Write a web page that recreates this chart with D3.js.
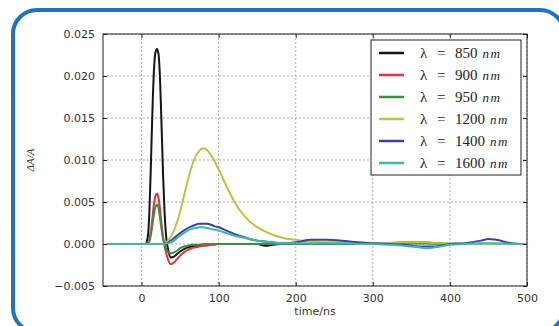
<!DOCTYPE html>
<html>
<head>
<meta charset="utf-8">
<script src="https://cdn.jsdelivr.net/npm/d3@7"></script>
<style>
  body { margin: 0; background: #fff; }
  svg { display: block; }
</style>
</head>
<body>
<div id="chart"></div>
<script>
// time axis in ns, shared by every series
const times = [-45, -20, 0, 5, 8, 10, 12, 14, 16, 18, 20, 22, 24, 26, 28, 30, 32, 35, 38, 42,
  46, 50, 55, 60, 65, 70, 75, 80, 85, 90, 95, 100, 110, 120, 130, 140, 150, 160, 170, 180,
  190, 200, 220, 240, 260, 280, 300, 320, 340, 360, 370, 380, 400, 420, 440, 450, 460, 480, 500];

const wl850 = [0, 0, 0, 0, 0.0008, 0.0035, 0.009, 0.0155, 0.0205, 0.0228, 0.0232, 0.0226, 0.0196, 0.014, 0.008,
  0.0035, 0.0008, -0.0009, -0.0016, -0.0015, -0.0012, -0.0009, -0.0006, -0.0004, -0.0003,
  -0.0002, -0.0002, -0.0001, -0.0001, -0.0001, 0, 0, 0, 0, 0, 0, 0, -0.0002, -0.0001, 0,
  0, 0, 0, 0, 0, 0, 0, 0, 0.0001, 0.0001, 0.0001, 0.0001, 0, 0, 0, 0, 0, 0, 0];

const wl900 = [0, 0, 0, 0, 0.0001, 0.0005, 0.0015, 0.003, 0.0047, 0.0057, 0.006, 0.0055, 0.0041, 0.0023, 0.0008,
  -0.0003, -0.0011, -0.002, -0.0024, -0.0022, -0.0018, -0.0014, -0.001, -0.0007, -0.0005,
  -0.0004, -0.0003, -0.0002, -0.0002, -0.0001, -0.0001, 0, 0, 0, 0, 0, 0, 0, 0, 0,
  0, 0, 0, 0, 0, 0, 0, 0.0001, 0.0002, 0.0002, 0.0002, 0.0001, 0, 0, 0, 0, 0, 0, 0];

const wl950 = [0, 0, 0, 0, 0.0001, 0.0003, 0.001, 0.0022, 0.0035, 0.0044, 0.0047, 0.0043, 0.0031, 0.0017, 0.0006,
  -0.0001, -0.0006, -0.001, -0.0011, -0.001, -0.0008, -0.0005, -0.0003, -0.0002, -0.0001,
  -0.0001, -0.0001, 0, 0, 0, 0, 0, 0, 0, 0, 0, 0, 0, 0, 0,
  0, 0, 0, 0, 0, 0, 0, 0.0001, 0.0001, 0.0001, 0.0001, 0, 0, 0, 0, 0, 0, 0, 0];

const wl1200 = [0, 0, 0, 0, 0, 0, 0, 0, 0, 0, 0, 0, 0, 0, 0,
  0.0001, 0.0002, 0.0005, 0.0009, 0.0016, 0.0026, 0.0038, 0.0057, 0.0076, 0.0092,
  0.0104, 0.0111, 0.0114, 0.0112, 0.0106, 0.0098, 0.0089, 0.0069, 0.0051, 0.0037,
  0.0027, 0.002, 0.0015, 0.0011, 0.0008, 0.0006, 0.0005, 0.0003, 0.0002, 0.0002,
  0.0001, 0.0001, 0.0001, 0.0002, 0.0002, 0.0002, 0.0001, 0.0001, 0, 0, 0, 0, 0, 0];

const wl1400 = [0, 0, 0, 0, 0, 0, 0, 0, 0, 0, 0, 0, 0, 0, 0,
  0.0001, 0.0001, 0.0002, 0.0004, 0.0007, 0.001, 0.0013, 0.0016, 0.0019, 0.0021,
  0.0023, 0.0024, 0.0024, 0.0024, 0.0023, 0.0021, 0.002, 0.0016, 0.0012, 0.0009,
  0.0006, 0.0004, 0.0003, 0.0002, 0.0001, 0.0001, 0.0002, 0.0005, 0.0005, 0.0004,
  0.0002, 0.0001, 0, -0.0001, -0.0003, -0.0003, -0.0003, 0, 0.0001, 0.0004, 0.0006, 0.0005, 0.0001, 0];

const wl1600 = [0, 0, 0, 0, 0, 0, 0, 0, 0, 0, 0, 0, 0, 0, 0,
  0, 0.0001, 0.0001, 0.0002, 0.0004, 0.0007, 0.001, 0.0013, 0.0016, 0.0018,
  0.0019, 0.002, 0.002, 0.0019, 0.0018, 0.0017, 0.0016, 0.0013, 0.001, 0.0008,
  0.0006, 0.0004, 0.0003, 0.0002, 0.0001, 0.0001, 0.0001, 0.0001, 0.0001, 0.0001,
  0, 0, -0.0001, -0.0002, -0.0004, -0.0005, -0.0004, -0.0001, 0, 0.0001, 0.0001, 0.0001, 0, 0];

const labels = ["850", "900", "950", "1200", "1400", "1600"];
const seriesValues = [wl850, wl900, wl950, wl1200, wl1400, wl1600];
const colors = ["#151515", "#e3333b", "#3b8f3e", "#bcc43e", "#3a44a0", "#3fb6ae"];

const xTicks = [0, 100, 200, 300, 400, 500];
const yTicks = [-0.005, 0, 0.005, 0.01, 0.015, 0.02, 0.025];

const width = 559;
const height = 326;
const margin = { top: 34, right: 32, bottom: 40, left: 103 };

const svg = d3.select("#chart")
  .append("svg")
  .attr("width", width)
  .attr("height", height);

// rounded blue frame around the figure
svg.append("rect")
  .attr("x", 13)
  .attr("y", 10)
  .attr("width", 551)
  .attr("height", 322)
  .attr("rx", 24)
  .attr("fill", "none")
  .attr("stroke", "#1b72c6")
  .attr("stroke-width", 4);

const x = d3.scaleLinear()
  .domain([-50, 500])
  .range([margin.left, width - margin.right]);

const y = d3.scaleLinear()
  .domain([-0.005, 0.025])
  .range([height - margin.bottom, margin.top]);

const plotW = x.range()[1] - x.range()[0];
const plotH = y.range()[0] - y.range()[1];

// grid
const grid = svg.append("g")
  .attr("stroke", "#9a9a9a")
  .attr("stroke-width", 0.8)
  .attr("stroke-dasharray", "2,2");

grid.selectAll("line.gx")
  .data(xTicks)
  .join("line")
  .attr("class", "gx")
  .attr("x1", d => x(d)).attr("x2", d => x(d))
  .attr("y1", y.range()[1]).attr("y2", y.range()[0]);

grid.selectAll("line.gy")
  .data(yTicks)
  .join("line")
  .attr("class", "gy")
  .attr("x1", x.range()[0]).attr("x2", x.range()[1])
  .attr("y1", d => y(d)).attr("y2", d => y(d));

// curves
const line = d3.line()
  .x((d, i) => x(times[i]))
  .y(d => y(d))
  .curve(d3.curveMonotoneX);

svg.append("clipPath").attr("id", "plotclip")
  .append("rect")
  .attr("x", x.range()[0]).attr("y", y.range()[1])
  .attr("width", plotW).attr("height", plotH);

svg.append("g")
  .attr("clip-path", "url(#plotclip)")
  .selectAll("path")
  .data(seriesValues)
  .join("path")
  .attr("d", d => line(d))
  .attr("fill", "none")
  .attr("stroke", (d, i) => colors[i])
  .attr("stroke-width", 2)
  .attr("stroke-linejoin", "round");

// axes, ticks inward on all four sides
const fmtY = d => d3.format(".3f")(d).replace("-", "\u2212");

svg.append("g")
  .attr("transform", `translate(0,${y.range()[0]})`)
  .call(d3.axisBottom(x).tickValues(xTicks).tickSizeInner(-4).tickSizeOuter(0).tickPadding(8))
  .call(g => g.select(".domain").remove());

svg.append("g")
  .attr("transform", `translate(0,${y.range()[1]})`)
  .call(d3.axisTop(x).tickValues(xTicks).tickSizeInner(-4).tickSizeOuter(0).tickFormat(""))
  .call(g => g.select(".domain").remove());

svg.append("g")
  .attr("transform", `translate(${x.range()[0]},0)`)
  .call(d3.axisLeft(y).tickValues(yTicks).tickFormat(fmtY).tickSizeInner(-4).tickSizeOuter(0).tickPadding(8))
  .call(g => g.select(".domain").remove());

svg.append("g")
  .attr("transform", `translate(${x.range()[1]},0)`)
  .call(d3.axisRight(y).tickValues(yTicks).tickFormat("").tickSizeInner(-4).tickSizeOuter(0))
  .call(g => g.select(".domain").remove());

svg.selectAll(".tick text")
  .style("font-family", "DejaVu Sans, sans-serif")
  .style("font-size", "11px")
  .style("fill", "#333");

svg.selectAll(".tick line").attr("stroke", "#222");

// plot frame
svg.append("rect")
  .attr("x", x.range()[0]).attr("y", y.range()[1])
  .attr("width", plotW).attr("height", plotH)
  .attr("fill", "none")
  .attr("stroke", "#222")
  .attr("stroke-width", 1);

// axis labels
svg.append("text")
  .attr("x", 315)
  .attr("y", 315)
  .attr("text-anchor", "middle")
  .style("font-family", "DejaVu Sans, sans-serif")
  .style("font-size", "11px")
  .style("fill", "#333")
  .text("time/ns");

svg.append("text")
  .attr("transform", "translate(34,160) rotate(-90)")
  .attr("text-anchor", "middle")
  .style("font-family", "Liberation Serif, serif")
  .style("font-style", "italic")
  .style("font-size", "11px")
  .style("fill", "#333")
  .text("\u0394A/A");

// legend
const legend = svg.append("g");

legend.append("rect")
  .attr("x", 371).attr("y", 40)
  .attr("width", 150).attr("height", 135)
  .attr("fill", "#fff")
  .attr("stroke", "#222")
  .attr("stroke-width", 1);

const rows = legend.selectAll("g.row")
  .data(labels)
  .join("g")
  .attr("class", "row")
  .attr("transform", (d, i) => `translate(0,${53 + i * 22})`);

rows.append("line")
  .attr("x1", 379).attr("x2", 404)
  .attr("stroke", (d, i) => colors[i])
  .attr("stroke-width", 2.5);

const txt = rows.append("text")
  .attr("y", 5)
  .style("font-family", "Liberation Serif, serif")
  .style("font-size", "15px")
  .style("fill", "#222");

txt.append("tspan").attr("x", 420).text("\u03bb");
txt.append("tspan").attr("x", 437).text("=");
txt.append("tspan").attr("x", 455).text(d => d);
txt.append("tspan")
  .attr("dx", 5)
  .style("font-style", "italic")
  .style("font-size", "13px")
  .style("letter-spacing", "1.5px")
  .text("nm");
</script>
</body>
</html>
